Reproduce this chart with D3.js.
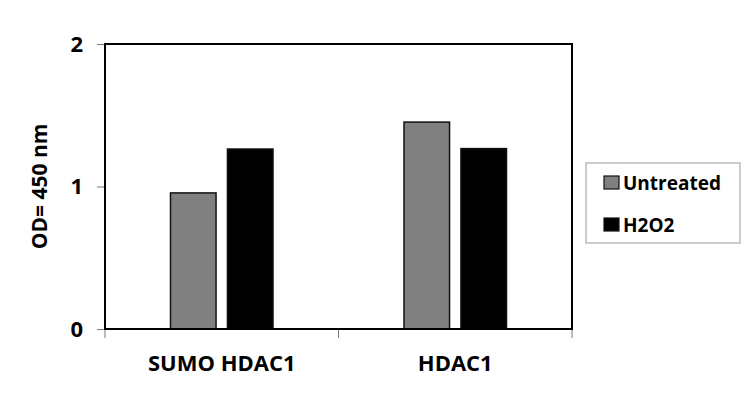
<!DOCTYPE html>
<html><head><meta charset="utf-8">
<script src="https://cdn.jsdelivr.net/npm/d3@7"></script>
<style>body{margin:0;background:#fff}text{font-family:"Open Sans",sans-serif;font-weight:bold;fill:#000}</style>
</head><body><svg id="c" width="750" height="412"></svg>
<script>
const categories = ["SUMO HDAC1", "HDAC1"];
const seriesNames = ["Untreated", "H2O2"];
const untreated = [0.955, 1.452];
const h2o2 = [1.263, 1.266];
const yTicks = [0, 1, 2];
const colors = ["#808080", "#000000"];

const svg = d3.select("#c");
const L = 105, R = 572, T = 44, B = 329;
const x = d3.scaleBand().domain(categories).range([L, R]).padding(0);
const xi = d3.scaleBand().domain(seriesNames).range([0, x.bandwidth()]).paddingInner(0.2).paddingOuter(1.15);
const y = d3.scaleLinear().domain([0, 2]).range([B, T]);

const data = categories.map((c, i) => ({cat: c, vals: [untreated[i], h2o2[i]]}));

// bars
const g = svg.append("g");
data.forEach(d => {
  d.vals.forEach((v, j) => {
    g.append("rect")
      .attr("x", x(d.cat) + xi(seriesNames[j]))
      .attr("y", y(v))
      .attr("width", xi.bandwidth())
      .attr("height", y(0) - y(v))
      .attr("fill", colors[j])
      .attr("stroke", "#111")
      .attr("stroke-width", 1.5);
  });
});

// y axis ticks
const ya = svg.append("g").attr("transform", `translate(${L},0)`)
  .call(d3.axisLeft(y).tickValues(yTicks).tickFormat(d3.format("d")).tickSize(8).tickPadding(14));
ya.select(".domain").remove();
ya.selectAll("line").attr("stroke", "#777").attr("stroke-width", 1);
ya.selectAll("text").style("font-size", "22px").attr("font-family", "Open Sans").attr("font-weight", "bold");

// x axis ticks (category boundaries)
const bounds = [L, x(categories[1]), R];
svg.append("g").selectAll("line").data(bounds).join("line")
  .attr("x1", d => d).attr("x2", d => d).attr("y1", B).attr("y2", B + 9)
  .attr("stroke", "#777").attr("stroke-width", 1);
svg.append("g").selectAll("text").data(categories).join("text")
  .attr("x", d => x(d) + x.bandwidth() / 2).attr("y", 371)
  .attr("text-anchor", "middle").style("font-size", "22px").text(d => d);

// frame
svg.append("rect").attr("x", L).attr("y", T).attr("width", R - L).attr("height", B - T)
  .attr("fill", "none").attr("stroke", "#000").attr("stroke-width", 2);

// y title
svg.append("text").attr("transform", `translate(47,${(T + B) / 2}) rotate(-90)`)
  .attr("text-anchor", "middle").style("font-size", "21px").text("OD= 450 nm");

// legend
const lg = svg.append("g");
lg.append("rect").attr("x", 586).attr("y", 163).attr("width", 154).attr("height", 80)
  .attr("fill", "#fff").attr("stroke", "#999").attr("stroke-width", 1);
seriesNames.forEach((s, j) => {
  const yy = 176 + j * 42;
  lg.append("rect").attr("x", 604).attr("y", yy).attr("width", 15).attr("height", 13)
    .attr("fill", colors[j]).attr("stroke", "#111").attr("stroke-width", 1.2);
  lg.append("text").attr("x", 623).attr("y", yy + 13.5).style("font-size", "19px").text(s);
});
</script></body></html>
